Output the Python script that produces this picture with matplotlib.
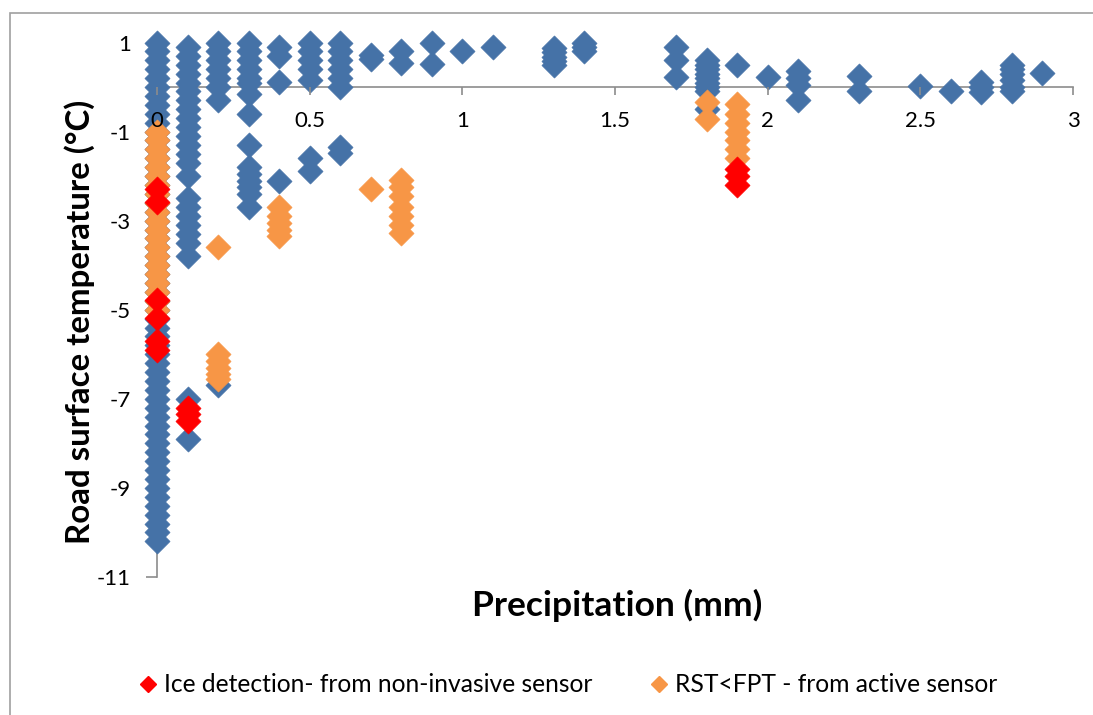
import matplotlib
matplotlib.use('Agg')
import matplotlib.pyplot as plt
from matplotlib.lines import Line2D
from matplotlib.patches import Rectangle

plt.rcParams['font.family'] = ['Lato', 'DejaVu Sans']

# ---------------- data ----------------
blue_cols = [0.0, 0.1, 0.2, 0.3, 0.4, 0.5, 0.6, 0.7, 0.8, 0.9, 1.0, 1.1,
             1.3, 1.4, 1.7, 1.8, 1.9, 2.0, 2.1, 2.3, 2.5, 2.6, 2.7, 2.8, 2.9]
blue_vals = [
    [1.0, 0.8, 0.6, 0.4, 0.2, 0.0, -0.2, -0.4, -0.6, -0.8, -1.0, -1.2, -1.4,
     -1.6, -1.8, -2.0, -2.2, -2.4, -2.6, -2.8, -3.0, -3.2, -3.4, -3.6, -3.8,
     -4.0, -4.2, -4.4, -4.6, -4.8, -5.0, -5.2, -5.4, -5.6, -5.8, -6.0, -6.2,
     -6.4, -6.6, -6.8, -7.0, -7.2, -7.4, -7.6, -7.8, -8.0, -8.2, -8.4, -8.6,
     -8.8, -9.0, -9.2, -9.4, -9.6, -9.8, -10.0, -10.2],
    [0.9, 0.7, 0.5, 0.3, 0.1, -0.1, -0.3, -0.5, -0.7, -0.9, -1.1, -1.3, -1.5,
     -1.7, -2.0, -2.5, -2.7, -2.9, -3.1, -3.3, -3.5, -3.8, -7.0, -7.9],
    [1.0, 0.8, 0.6, 0.4, 0.2, 0.0, -0.28, -6.7],
    [1.0, 0.8, 0.6, 0.4, 0.2, 0.1, -0.15, -0.6, -1.3, -1.8, -1.95, -2.1,
     -2.25, -2.4, -2.7],
    [0.9, 0.7, 0.12, -2.1],
    [1.0, 0.8, 0.6, 0.4, 0.15, -1.6, -1.88],
    [1.0, 0.8, 0.6, 0.4, 0.2, 0.0, -1.35, -1.48],
    [0.72, 0.62],
    [0.8, 0.55],
    [1.0, 0.52],
    [0.8],
    [0.9],
    [0.88, 0.78, 0.68, 0.58, 0.5],
    [0.98, 0.9, 0.8],
    [0.9, 0.6, 0.22],
    [0.6, 0.5, 0.4, 0.3, 0.2, 0.1, 0.0, -0.1, -0.5],
    [0.5],
    [0.22],
    [0.35, 0.2, 0.05, -0.3],
    [0.25, -0.1],
    [0.02],
    [-0.1],
    [0.12, 0.0, -0.12],
    [0.5, 0.4, 0.3, 0.15, 0.0, -0.1],
    [0.32],
]

orange_cols = [0.0, 0.2, 0.4, 0.7, 0.8, 1.8, 1.9]
orange_vals = [
    [-1.0, -1.2, -1.4, -1.6, -1.8, -2.0, -2.2, -2.4, -2.6, -2.8, -3.0, -3.2,
     -3.4, -3.6, -3.8, -4.0, -4.2, -4.4, -4.6, -4.8, -5.0],
    [-3.6, -6.0, -6.15, -6.3, -6.45, -6.55],
    [-2.7, -2.9, -3.05, -3.2, -3.35],
    [-2.28],
    [-2.08, -2.25, -2.45, -2.7, -2.9, -3.1, -3.28],
    [-0.34, -0.71],
    [-0.39, -0.6, -0.8, -1.0, -1.2, -1.4, -1.6],
]

red_cols = [0.0, 0.1, 1.9]
red_vals = [
    [-2.3, -2.57, -4.78, -5.19, -5.7, -5.9],
    [-7.2, -7.35, -7.5],
    [-1.85, -2.0, -2.2],
]

x_ticks = [0, 0.5, 1, 1.5, 2, 2.5, 3]
x_tick_labels = ['0', '0.5', '1', '1.5', '2', '2.5', '3']
y_ticks = [-11, -9, -7, -5, -3, -1, 1]
y_tick_labels = ['-11', '-9', '-7', '-5', '-3', '-1', '1']

red_label = 'Ice detection- from non-invasive sensor'
orange_label = 'RST<FPT - from active sensor'
x_label = 'Precipitation (mm)'
y_label = 'Road surface temperature (\u00b0C)'

BLUE = '#4572A7'
ORANGE = '#F79646'
RED = '#FF0000'
GREY = '#8C8C8C'


def flatten(cols, vals):
    xs, ys = [], []
    for c, v in zip(cols, vals):
        xs.extend([c] * len(v))
        ys.extend(v)
    return xs, ys


bx, by = flatten(blue_cols, blue_vals)
ox, oy = flatten(orange_cols, orange_vals)
rx, ry = flatten(red_cols, red_vals)

# ---------------- figure ----------------
W, H = 1093, 715
fig = plt.figure(figsize=(W / 100, H / 100), dpi=100)
renderer = fig.canvas.get_renderer()


def fit_size(text, target_px, weight='normal', base=20.0):
    t = fig.text(0, 0, text, fontsize=base, weight=weight)
    w = t.get_window_extent(renderer).width
    t.remove()
    return base * target_px / w


# chart-area border
fig.patches.append(Rectangle((10 / W, -0.2), 2.0, (H - 13) / H + 0.2,
                             transform=fig.transFigure, fill=False,
                             edgecolor='#A0A0A0', lw=1.2, zorder=0))

ax = fig.add_axes([157 / W, (H - 577) / H, 916 / W, 534.5 / H])
ax.set_xlim(0, 3)
ax.set_ylim(-11, 1)
ax.patch.set_alpha(0)

ms = 165
ax.scatter(bx, by, marker='D', s=ms, color=BLUE, edgecolors=BLUE,
           linewidths=0.4, zorder=2, clip_on=False)
ax.scatter(ox, oy, marker='D', s=ms, color=ORANGE, edgecolors=ORANGE,
           linewidths=0.4, zorder=3, clip_on=False)
ax.scatter(rx, ry, marker='D', s=ms, color=RED, edgecolors=RED,
           linewidths=0.4, zorder=4, clip_on=False)

for s in ['top', 'right']:
    ax.spines[s].set_visible(False)
ax.spines['bottom'].set_position(('data', 0))
for s in ['bottom', 'left']:
    ax.spines[s].set_color(GREY)
    ax.spines[s].set_linewidth(1.2)
    ax.spines[s].set_zorder(1)

ax.set_xticks(x_ticks)
ax.set_xticklabels(x_tick_labels)
ax.set_yticks(y_ticks)
ax.set_yticklabels(y_tick_labels)
ax.tick_params(axis='x', direction='out', length=6, width=1.2, color=GREY,
               labelsize=16, pad=11, labelcolor='black')
ax.tick_params(axis='y', direction='out', length=8, width=1.2, color=GREY,
               labelsize=16, pad=11, labelcolor='black')
ax.xaxis.set_zorder(5)
ax.yaxis.set_zorder(1.5)

# axis titles
fs_y = fit_size(y_label, 445, weight='bold')
fig.text(80 / W, 1 - 322 / H, y_label, rotation=90, ha='center', va='center',
         fontsize=fs_y, weight='bold')
fs_x = fit_size(x_label, 290, weight='bold')
fig.text(617 / W, 1 - 605 / H, x_label, ha='center', va='center',
         fontsize=fs_x, weight='bold')

# legend
fs_l = fit_size(red_label, 430)
px = fs_l * 100 / 72
handles = [Line2D([], [], marker='D', linestyle='none', color=RED,
                  markersize=8.5),
           Line2D([], [], marker='D', linestyle='none', color=ORANGE,
                  markersize=8.5)]
fig.legend(handles, [red_label, orange_label], loc='center left',
           bbox_to_anchor=(139 / W, 1 - 685 / H), ncol=2, frameon=False,
           fontsize=fs_l, handlelength=18 / px, handletextpad=7 / px,
           columnspacing=58 / px, borderpad=0, borderaxespad=0,
           handleheight=0.7)

fig.savefig('out.png', dpi=100)
